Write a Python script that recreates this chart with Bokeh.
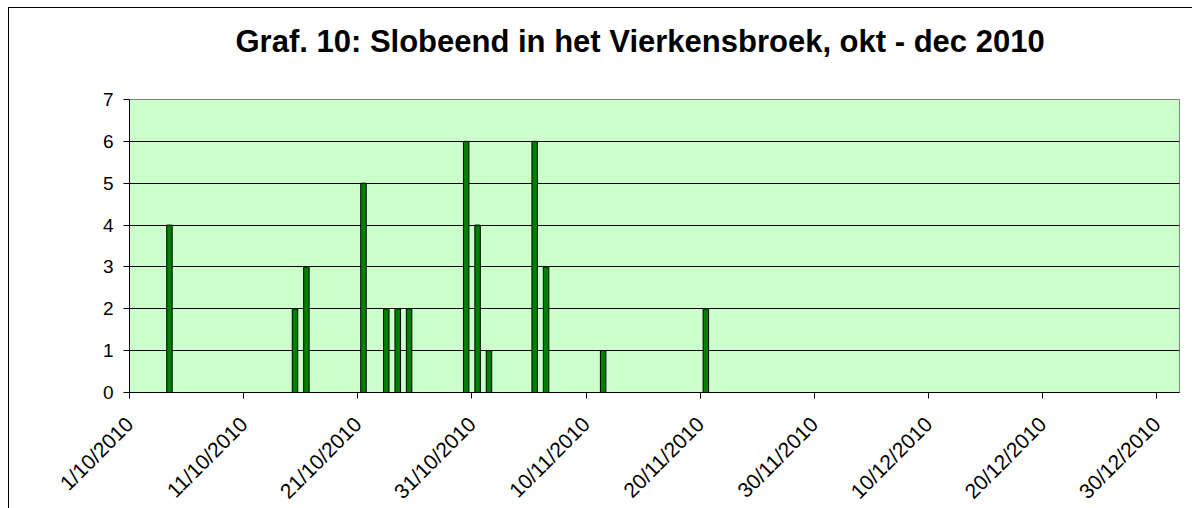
import math
from datetime import date
from bokeh.plotting import figure
from bokeh.models import ColumnDataSource, FixedTicker, Range1d, Title
from bokeh.embed import file_html
from bokeh.resources import INLINE

# ---- data ----
title_text = "Graf. 10: Slobeend in het Vierkensbroek, okt - dec 2010"
obs_dates = ["2010-10-04", "2010-10-15", "2010-10-16", "2010-10-21", "2010-10-23",
             "2010-10-24", "2010-10-25", "2010-10-30", "2010-10-31", "2010-11-01",
             "2010-11-05", "2010-11-06", "2010-11-11", "2010-11-20"]
counts = [4, 2, 3, 5, 2, 2, 2, 6, 4, 1, 6, 3, 1, 2]
tick_labels = ["1/10/2010", "11/10/2010", "21/10/2010", "31/10/2010", "10/11/2010",
               "20/11/2010", "30/11/2010", "10/12/2010", "20/12/2010", "30/12/2010"]
y_ticks = [0, 1, 2, 3, 4, 5, 6, 7]

start = date(2010, 10, 1)
end = date(2011, 1, 1)
# day slots: a bar sits in the middle of its day
xs = [(date.fromisoformat(d) - start).days + 0.5 for d in obs_dates]
tick_pos = [(date(int(t.split("/")[2]), int(t.split("/")[1]), int(t.split("/")[0])) - start).days
            for t in tick_labels]

src = ColumnDataSource(dict(x=xs, top=counts))

p = figure(width=1184, height=530, output_backend="svg", toolbar_location=None,
           x_range=Range1d(0, (end - start).days), y_range=Range1d(0, 7),
           min_border_left=120, min_border_right=14, min_border_top=91,
           min_border_bottom=146)
p.styles = {"margin-left": "8px", "margin-top": "7px",
            "border-left": "1px solid #000000", "border-top": "1px solid #000000"}

# spacer panel next to the frame (white dot on white, only takes room)
spacer = Title(text=".", text_font_size="2px", text_color="white", standoff=38)
p.add_layout(spacer, "above")
# main title, stacked above the spacer
main_title = Title(text=title_text, align="left", offset=106, text_font="Liberation Sans",
                   text_font_size="31px", text_font_style="bold", text_color="black",
                   standoff=0)
p.add_layout(main_title, "above")

p.background_fill_color = "#CCFFCC"
p.border_fill_color = "white"
p.outline_line_color = "#808080"
p.outline_line_width = 1

p.vbar(x="x", top="top", bottom=0, width=0.48, source=src,
       fill_color="#008000", line_color="black", line_width=1)

# grid
p.xgrid.grid_line_color = None
p.ygrid.grid_line_color = "black"
p.ygrid.grid_line_width = 1
p.ygrid.ticker = FixedTicker(ticks=y_ticks)

# y axis
p.yaxis.ticker = FixedTicker(ticks=y_ticks)
p.yaxis.axis_line_color = "black"
p.yaxis.major_tick_line_color = "black"
p.yaxis.major_tick_out = 6
p.yaxis.major_tick_in = 0
p.yaxis.minor_tick_line_color = None
p.yaxis.major_label_text_font = "Liberation Sans"
p.yaxis.major_label_text_font_size = "19px"
p.yaxis.major_label_text_color = "black"
p.yaxis.major_label_standoff = 10

# x axis
p.xaxis.ticker = FixedTicker(ticks=tick_pos)
p.xaxis.major_label_overrides = {tp: lab for tp, lab in zip(tick_pos, tick_labels)}
p.xaxis.axis_line_color = "black"
p.xaxis.major_tick_line_color = "black"
p.xaxis.major_tick_out = 6
p.xaxis.major_tick_in = 0
p.xaxis.minor_tick_line_color = None
p.xaxis.major_label_orientation = math.pi / 4
p.xaxis.major_label_text_font = "Liberation Sans"
p.xaxis.major_label_text_font_size = "21px"
p.xaxis.major_label_text_color = "black"
p.xaxis.major_label_standoff = 22

html = file_html(p, INLINE)
html = html.replace("<head>", "<head><style>html, body { overflow: hidden; }</style>", 1)
open("out.html", "w").write(html)
